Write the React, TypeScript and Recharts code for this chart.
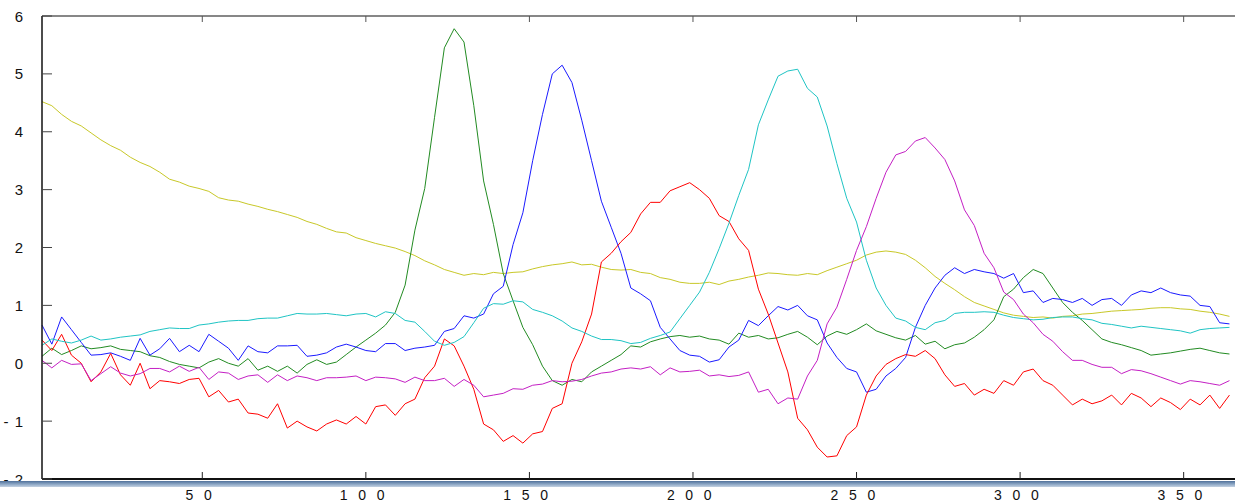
import React from 'react';
import { LineChart, Line, XAxis, YAxis } from 'recharts';

// sampled every 3 units, x = 1, 4, 7 ... 364
const yellow = [
  4.52, 4.45, 4.30, 4.18, 4.10, 3.98, 3.86, 3.76, 3.68, 3.56,
  3.47, 3.40, 3.30, 3.18, 3.13, 3.06, 3.02, 2.97, 2.86, 2.82,
  2.80, 2.75, 2.71, 2.66, 2.62, 2.57, 2.52, 2.45, 2.40, 2.33,
  2.27, 2.25, 2.17, 2.12, 2.07, 2.03, 1.99, 1.93, 1.86, 1.77,
  1.70, 1.62, 1.57, 1.52, 1.55, 1.53, 1.57, 1.55, 1.57, 1.58,
  1.63, 1.67, 1.70, 1.72, 1.75, 1.70, 1.71, 1.66, 1.62, 1.61,
  1.62, 1.57, 1.55, 1.48, 1.45, 1.40, 1.38, 1.38, 1.40, 1.36,
  1.42, 1.45, 1.49, 1.52, 1.56, 1.55, 1.53, 1.52, 1.55, 1.53,
  1.60, 1.66, 1.72, 1.78, 1.87, 1.92, 1.94, 1.92, 1.88, 1.78,
  1.65, 1.50, 1.38, 1.27, 1.15, 1.05, 0.99, 0.93, 0.87, 0.83,
  0.81, 0.79, 0.80, 0.78, 0.81, 0.82, 0.85, 0.86, 0.88, 0.90,
  0.91, 0.92, 0.93, 0.95, 0.96, 0.96, 0.94, 0.93, 0.90, 0.88,
  0.85, 0.81,
];

const green = [
  0.12, 0.26, 0.15, 0.22, 0.30, 0.25, 0.27, 0.30, 0.24, 0.22,
  0.20, 0.13, 0.10, 0.03, -0.02, -0.05, -0.08, 0.02, 0.08, 0.00,
  -0.05, 0.08, -0.12, -0.05, -0.14, -0.05, -0.17, -0.02, 0.06, -0.02,
  0.02, 0.15, 0.28, 0.40, 0.52, 0.66, 0.88, 1.35, 2.30, 3.02,
  4.25, 5.45, 5.78, 5.55, 4.45, 3.15, 2.40, 1.55, 1.08, 0.62,
  0.32, -0.05, -0.30, -0.38, -0.28, -0.32, -0.15, -0.05, 0.05, 0.15,
  0.30, 0.28, 0.37, 0.42, 0.46, 0.48, 0.45, 0.47, 0.42, 0.40,
  0.33, 0.52, 0.45, 0.48, 0.42, 0.44, 0.50, 0.55, 0.45, 0.32,
  0.47, 0.55, 0.50, 0.58, 0.68, 0.56, 0.50, 0.44, 0.40, 0.48,
  0.33, 0.38, 0.25, 0.32, 0.35, 0.45, 0.58, 0.75, 1.15, 1.28,
  1.48, 1.62, 1.55, 1.30, 1.05, 0.88, 0.74, 0.58, 0.42, 0.36,
  0.32, 0.27, 0.22, 0.14, 0.16, 0.18, 0.21, 0.24, 0.26, 0.22,
  0.18, 0.16,
];

const blue = [
  0.66, 0.33, 0.80, 0.58, 0.36, 0.14, 0.15, 0.18, 0.12, 0.05,
  0.43, 0.14, 0.25, 0.43, 0.20, 0.31, 0.20, 0.50, 0.38, 0.26,
  0.05, 0.30, 0.20, 0.18, 0.30, 0.30, 0.31, 0.12, 0.14, 0.18,
  0.28, 0.33, 0.28, 0.22, 0.20, 0.34, 0.34, 0.22, 0.26, 0.28,
  0.31, 0.55, 0.60, 0.82, 0.78, 0.85, 1.20, 1.33, 2.05, 2.60,
  3.50, 4.30, 5.00, 5.15, 4.85, 4.20, 3.50, 2.80, 2.35, 1.90,
  1.30, 1.20, 1.08, 0.62, 0.42, 0.22, 0.14, 0.12, 0.02, 0.06,
  0.28, 0.40, 0.74, 0.65, 0.82, 0.98, 0.92, 1.00, 0.82, 0.75,
  0.35, 0.10, -0.09, -0.15, -0.50, -0.45, -0.22, -0.09, 0.10, 0.62,
  1.00, 1.30, 1.52, 1.65, 1.55, 1.62, 1.58, 1.55, 1.47, 1.55,
  1.22, 1.25, 1.05, 1.12, 1.10, 1.05, 1.12, 1.00, 1.10, 1.12,
  1.00, 1.18, 1.25, 1.22, 1.30, 1.22, 1.18, 1.16, 1.00, 0.98,
  0.70, 0.68,
];

const red = [
  0.40, 0.22, 0.50, 0.14, 0.00, -0.32, -0.15, 0.17, -0.20, -0.38,
  0.00, -0.44, -0.30, -0.32, -0.35, -0.28, -0.26, -0.58, -0.47, -0.67,
  -0.62, -0.86, -0.88, -0.95, -0.70, -1.12, -1.00, -1.10, -1.17, -1.05,
  -0.98, -1.05, -0.92, -1.05, -0.75, -0.72, -0.90, -0.70, -0.62, -0.25,
  -0.05, 0.42, 0.30, -0.05, -0.45, -1.05, -1.15, -1.35, -1.25, -1.38,
  -1.22, -1.18, -0.78, -0.70, 0.00, 0.37, 0.85, 1.75, 1.90, 2.10,
  2.26, 2.58, 2.78, 2.78, 2.98, 3.05, 3.12, 3.00, 2.85, 2.55,
  2.45, 2.15, 1.95, 1.28, 0.85, 0.35, -0.15, -0.95, -1.15, -1.45,
  -1.62, -1.60, -1.25, -1.10, -0.55, -0.22, -0.02, 0.08, 0.15, 0.12,
  0.22, 0.08, -0.20, -0.40, -0.35, -0.55, -0.45, -0.52, -0.30, -0.38,
  -0.15, -0.10, -0.30, -0.38, -0.55, -0.72, -0.62, -0.70, -0.65, -0.55,
  -0.72, -0.52, -0.60, -0.75, -0.60, -0.68, -0.80, -0.62, -0.72, -0.55,
  -0.78, -0.55,
];

const cyan = [
  0.31, 0.42, 0.38, 0.35, 0.40, 0.47, 0.40, 0.42, 0.45, 0.47,
  0.49, 0.55, 0.58, 0.61, 0.60, 0.60, 0.66, 0.68, 0.71, 0.73,
  0.74, 0.74, 0.77, 0.78, 0.78, 0.82, 0.86, 0.85, 0.85, 0.86,
  0.84, 0.82, 0.85, 0.86, 0.80, 0.89, 0.86, 0.74, 0.71, 0.55,
  0.38, 0.31, 0.36, 0.46, 0.70, 0.95, 1.03, 1.02, 1.08, 1.06,
  0.93, 0.88, 0.82, 0.73, 0.61, 0.55, 0.47, 0.41, 0.41, 0.39,
  0.34, 0.36, 0.43, 0.48, 0.54, 0.77, 1.00, 1.23, 1.57, 1.98,
  2.42, 2.90, 3.35, 4.12, 4.55, 4.96, 5.05, 5.08, 4.75, 4.60,
  4.10, 3.45, 2.85, 2.44, 1.78, 1.30, 1.00, 0.78, 0.73, 0.62,
  0.58, 0.70, 0.74, 0.86, 0.88, 0.88, 0.89, 0.88, 0.83, 0.79,
  0.77, 0.75, 0.76, 0.79, 0.80, 0.80, 0.77, 0.75, 0.69, 0.67,
  0.64, 0.61, 0.64, 0.62, 0.60, 0.58, 0.56, 0.52, 0.58, 0.60,
  0.61, 0.62,
];

const magenta = [
  0.05, -0.08, 0.05, -0.02, -0.01, -0.30, -0.18, -0.06, -0.17, -0.22,
  -0.18, -0.09, -0.09, -0.15, -0.05, -0.14, -0.07, -0.28, -0.15, -0.17,
  -0.28, -0.22, -0.20, -0.33, -0.20, -0.30, -0.22, -0.25, -0.30, -0.25,
  -0.25, -0.24, -0.22, -0.30, -0.24, -0.25, -0.27, -0.33, -0.24, -0.30,
  -0.30, -0.26, -0.40, -0.28, -0.38, -0.58, -0.55, -0.52, -0.44, -0.45,
  -0.38, -0.36, -0.30, -0.32, -0.31, -0.28, -0.22, -0.17, -0.15, -0.10,
  -0.08, -0.10, -0.06, -0.20, -0.08, -0.15, -0.14, -0.12, -0.22, -0.20,
  -0.23, -0.21, -0.15, -0.50, -0.45, -0.70, -0.60, -0.62, -0.22, 0.05,
  0.68, 0.97, 1.45, 1.95, 2.36, 2.85, 3.30, 3.60, 3.66, 3.84,
  3.90, 3.72, 3.52, 3.15, 2.65, 2.38, 1.90, 1.65, 1.23, 1.10,
  0.85, 0.70, 0.50, 0.38, 0.20, 0.05, 0.05, -0.02, -0.07, -0.07,
  -0.18, -0.11, -0.13, -0.18, -0.24, -0.30, -0.36, -0.30, -0.32, -0.35,
  -0.38, -0.30,
];

const xTicks = [50, 100, 150, 200, 250, 300, 350];
const yTicks = [-2, -1, 0, 1, 2, 3, 4, 5, 6];

const data = yellow.map((v, i) => ({
  x: 1 + i * 3,
  yellow: v,
  green: green[i],
  blue: blue[i],
  red: red[i],
  cyan: cyan[i],
  magenta: magenta[i],
}));

const font = '"Liberation Sans", Arial, sans-serif';

const spaced = (v: number) => String(v).split('').join(' ');
const yLabel = (v: number) => (v < 0 ? `- ${Math.abs(v)}` : String(v));

const BottomTick = ({ x, y, payload }: any) => (
  <g>
    <line x1={x} x2={x} y1={y} y2={y - 7} stroke="#222" strokeWidth={1} />
    <text x={x - 2} y={y + 16} textAnchor="middle" dominantBaseline="central"
      fontSize={14} letterSpacing={3.4} fill="#111" fontFamily={font}>
      {spaced(payload.value)}
    </text>
  </g>
);

const TopTick = ({ x, y }: any) => (
  <line x1={x} x2={x} y1={y} y2={y + 6} stroke="#555" strokeWidth={1} />
);

const LeftTick = ({ x, y, payload }: any) => (
  <g>
    <line x1={x} x2={x + 10} y1={y} y2={y} stroke="#444" strokeWidth={1} />
    <text x={x - 18} y={y} textAnchor="end" dominantBaseline="central"
      fontSize={15} letterSpacing={1} fill="#111" fontFamily={font}>
      {yLabel(payload.value)}
    </text>
  </g>
);

const series = [
  { key: 'yellow', color: '#c8c828' },
  { key: 'green', color: '#228b22' },
  { key: 'blue', color: '#1a1aff' },
  { key: 'red', color: '#ff0000' },
  { key: 'cyan', color: '#1fc4c4' },
  { key: 'magenta', color: '#c41fc4' },
];

export default function App() {
  return (
    <div style={{ position: 'fixed', left: 0, top: 0, width: 1235, height: 502, overflow: 'hidden', background: '#fff' }}>
      <LineChart width={1240} height={502} data={data}
        margin={{ top: 14, right: 4, bottom: 3, left: 0 }}>
        <XAxis dataKey="x" type="number" domain={[1, 366]} ticks={xTicks} interval={0}
          height={20} tickLine={false} tickSize={0} tickMargin={0}
          axisLine={{ stroke: '#111', strokeWidth: 2 }} tick={<BottomTick />} />
        <XAxis xAxisId="top" orientation="top" dataKey="x" type="number" domain={[1, 366]}
          ticks={xTicks} interval={0} height={2} tickLine={false} tickSize={0} tickMargin={0}
          axisLine={{ stroke: '#111', strokeWidth: 1.2 }} tick={<TopTick />} />
        <YAxis type="number" domain={[-2, 6]} ticks={yTicks} interval={0} width={42}
          tickLine={false} tickSize={0} tickMargin={0}
          axisLine={{ stroke: '#111', strokeWidth: 1.5 }} tick={<LeftTick />} />
        {series.map(s => (
          <Line key={s.key} type="linear" dataKey={s.key} stroke={s.color}
            strokeWidth={1} dot={false} activeDot={false} isAnimationActive={false} />
        ))}
      </LineChart>
      <div style={{
        position: 'absolute', left: 0, top: 481, width: 1235, height: 6,
        background: 'linear-gradient(#4f709a, #88a3c2, #c3d1e2)',
      }} />
    </div>
  );
}
